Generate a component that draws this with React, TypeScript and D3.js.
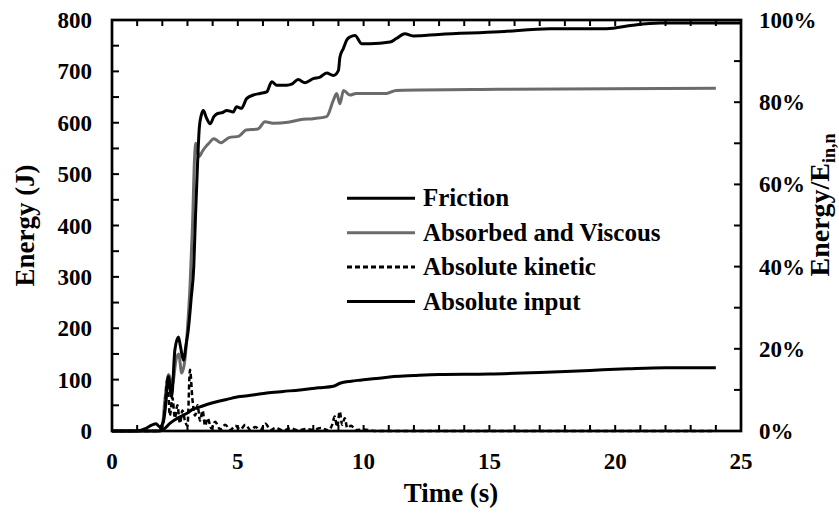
import React from "react";
import * as d3 from "d3";

const inputT = [0, 1.0, 1.3, 1.6, 1.75, 1.9, 2.05, 2.15, 2.24, 2.37, 2.5, 2.64, 2.72, 2.84, 2.95, 3.03, 3.15, 3.25, 3.32, 3.4, 3.47, 3.55, 3.63, 3.75, 3.9, 4.05, 4.2, 4.4, 4.56, 4.82, 4.95, 5.15, 5.35, 5.62, 5.88, 6.15, 6.35, 6.55, 6.94, 7.14, 7.4, 7.67, 8.0, 8.27, 8.53, 8.8, 9.0, 9.06, 9.2, 9.33, 9.46, 9.66, 9.92, 10.25, 11.05, 11.3, 11.64, 11.97, 13, 15.4, 17.4, 19.66, 20.7, 21.8, 25];
const inputV = [0, 0, 4, 12, 14, 8, 20, 60, 106, 67, 158, 183, 165, 138, 170, 196, 260, 320, 420, 520, 590, 615, 624, 610, 598, 612, 618, 620, 624, 621, 631, 628, 647, 654, 657, 660, 680, 673, 673, 675, 684, 678, 686, 689, 697, 692, 702, 728, 745, 761, 767, 770, 754, 754, 757, 764, 773, 769, 772, 777, 783, 783, 790, 794, 794];

const absorbedT = [0, 1.8, 2.0, 2.1, 2.25, 2.4, 2.55, 2.65, 2.77, 2.9, 3.0, 3.1, 3.2, 3.28, 3.33, 3.46, 3.6, 3.72, 3.85, 4.05, 4.32, 4.65, 5.05, 5.33, 5.8, 6.08, 6.4, 7.0, 7.47, 8.0, 8.53, 8.8, 8.93, 9.06, 9.2, 9.46, 9.7, 10.9, 11.3, 15.4, 24];
const absorbedV = [0, 0, 10, 60, 110, 90, 140, 150, 113, 140, 200, 281, 400, 530, 560, 534, 545, 553, 560, 569, 561, 571, 574, 586, 588, 602, 599, 601, 606, 608, 612, 644, 657, 637, 663, 654, 657, 657, 663, 665, 667];

const frictionT = [0, 1.9, 2.1, 2.3, 2.5, 2.8, 3.0, 3.2, 3.5, 3.8, 4.16, 4.6, 5.09, 5.6, 6.15, 6.8, 7.47, 8.2, 8.8, 9.06, 9.5, 9.86, 10.5, 11.2, 12, 13, 15, 17, 19, 20.5, 22, 24];
const frictionV = [0, 0, 5, 15, 22, 30, 35, 42, 47, 52, 57, 62, 67, 70, 74, 77, 80, 84, 87, 93, 97, 99, 102, 106, 108, 110, 111, 114, 118, 121, 123, 123];

const kineticT = [0, 1.8, 2.0, 2.1, 2.2, 2.3, 2.4, 2.5, 2.6, 2.7, 2.8, 2.9, 3.0, 3.1, 3.2, 3.3, 3.4, 3.5, 3.6, 3.7, 3.8, 3.95, 4.1, 4.3, 4.5, 4.7, 4.9, 5.1, 5.3, 5.5, 5.7, 5.9, 6.1, 6.3, 6.5, 6.8, 7.1, 7.4, 7.7, 8.0, 8.3, 8.6, 8.75, 8.85, 8.95, 9.05, 9.15, 9.25, 9.35, 9.5, 9.7, 10, 10.5, 24];
const kineticV = [0, 0, 8, 45, 100, 30, 65, 25, 50, 15, 40, 20, 10, 119, 60, 30, 50, 20, 40, 10, 25, 5, 18, 3, 12, 2, 10, 3, 12, 2, 8, 2, 14, 2, 6, 1, 5, 1, 4, 2, 6, 1, 12, 28, 8, 38, 12, 25, 6, 10, 2, 3, 0, 0];

const xTicks = [0, 5, 10, 15, 20, 25];
const yTicks = [0, 100, 200, 300, 400, 500, 600, 700, 800];
const pctTicks = [0, 0.2, 0.4, 0.6, 0.8, 1.0];
const legendLabels = ["Friction", "Absorbed and Viscous", "Absolute kinetic", "Absolute input"];

const W = 839, H = 514;
const L = 112, R = 741, T = 20, B = 431;
const FONT = "'Liberation Serif', 'Times New Roman', serif";
const GRAY = "#6b6b6b";

export default function App() {
  const x = d3.scaleLinear().domain([0, 25]).range([L, R]);
  const y = d3.scaleLinear().domain([0, 800]).range([B, T]);
  const yp = d3.scaleLinear().domain([0, 1]).range([B, T]);
  const line = (ts: number[], vs: number[]) =>
    d3.line<number>().x((_, i) => x(ts[i])).y((v) => y(v)).curve(d3.curveMonotoneX)(vs) || "";

  const minorX = d3.range(0, 26, 1);
  const minorY = d3.range(0, 801, 50);
  const minorP = d3.range(0, 1.001, 0.1);

  const legend = [
    { label: legendLabels[0], color: "#000", dash: "" },
    { label: legendLabels[1], color: GRAY, dash: "" },
    { label: legendLabels[2], color: "#000", dash: "5,3" },
    { label: legendLabels[3], color: "#000", dash: "" },
  ];
  const legendY = [453, 386, 319, 252];

  return (
    <svg width={W} height={H} style={{ position: "absolute", left: 0, top: 0, background: "#fff" }} fontFamily={FONT} fontWeight="bold">
      <path d={line(frictionT, frictionV)} fill="none" stroke="#000" strokeWidth={3} />
      <path d={line(absorbedT, absorbedV)} fill="none" stroke={GRAY} strokeWidth={3} />
      <path d={line(kineticT, kineticV)} fill="none" stroke="#000" strokeWidth={2.5} strokeDasharray="5,3" />
      <path d={line(inputT, inputV)} fill="none" stroke="#000" strokeWidth={3} />

      <rect x={L} y={T} width={R - L} height={B - T} fill="none" stroke="#000" strokeWidth={2.7} />
      {minorX.map((t) => (
        <g key={"xt" + t}>
          <line x1={x(t)} x2={x(t)} y1={B} y2={B - 6} stroke="#000" strokeWidth={2} />
          <line x1={x(t)} x2={x(t)} y1={T} y2={T + 6} stroke="#000" strokeWidth={2} />
        </g>
      ))}
      {minorY.map((v) => (
        <line key={"yt" + v} x1={L} x2={L + 7} y1={y(v)} y2={y(v)} stroke="#000" strokeWidth={2} />
      ))}
      {minorP.map((p) => (
        <line key={"pt" + p} x1={R} x2={R - 7} y1={yp(p)} y2={yp(p)} stroke="#000" strokeWidth={2} />
      ))}

      {xTicks.map((t) => (
        <text key={"xl" + t} x={x(t)} y={469} textAnchor="middle" fontSize={23}>{t}</text>
      ))}
      {yTicks.map((v) => (
        <text key={"yl" + v} x={92} y={y(v) + 8} textAnchor="end" fontSize={23}>{v}</text>
      ))}
      {pctTicks.map((p) => (
        <text key={"pl" + p} x={759} y={yp(p) + 8} textAnchor="start" fontSize={23}>{Math.round(p * 100) + "%"}</text>
      ))}

      <text x={451} y={502} textAnchor="middle" fontSize={27}>Time (s)</text>
      <text transform={`translate(34,${(T + B) / 2}) rotate(-90)`} textAnchor="middle" fontSize={27}>Energy (J)</text>
      <text transform={`translate(829,205) rotate(-90)`} textAnchor="middle" fontSize={28}>
        Energy/E<tspan fontSize={18} dy={6}>in,n</tspan>
      </text>

      {legend.map((d, i) => (
        <g key={"lg" + i}>
          <line x1={347} x2={415} y1={y(legendY[i])} y2={y(legendY[i])} stroke={d.color} strokeWidth={3} strokeDasharray={d.dash} />
          <text x={423} y={y(legendY[i]) + 8} fontSize={25}>{d.label}</text>
        </g>
      ))}
    </svg>
  );
}
